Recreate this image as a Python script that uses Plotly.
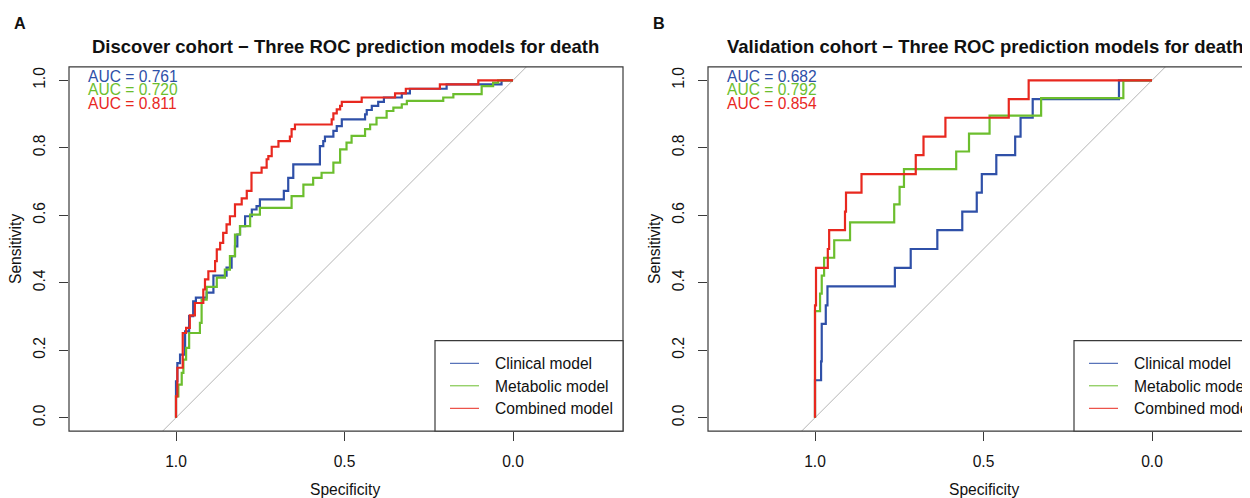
import plotly.graph_objects as go

W, H = 1250, 498

# ---------------- DATA ----------------
# ROC points (specificity, sensitivity)
# Panel A: Discover cohort
disc_clin_spec = [1.0, 0.996, 0.988, 0.973, 0.961, 0.949, 0.941, 0.909, 0.889, 0.850, 0.835, 0.825,
                  0.818, 0.810, 0.795, 0.775, 0.761, 0.751, 0.680, 0.667, 0.652, 0.573, 0.563, 0.558,
                  0.533, 0.523, 0.508, 0.439, 0.434, 0.419, 0.400, 0.383, 0.330, 0.306, 0.197, 0.034, 0.0]
disc_clin_sens = [0.0, 0.108, 0.162, 0.187, 0.256, 0.301, 0.345, 0.356, 0.371, 0.421, 0.445, 0.479,
                  0.508, 0.543, 0.568, 0.597, 0.617, 0.627, 0.647, 0.672, 0.711, 0.751, 0.805, 0.820,
                  0.833, 0.850, 0.864, 0.884, 0.899, 0.912, 0.924, 0.936, 0.949, 0.961, 0.975, 0.988, 1.0]

disc_meta_spec = [1.0, 0.993, 0.983, 0.978, 0.970, 0.961, 0.929, 0.924, 0.909, 0.879, 0.855, 0.840,
                  0.825, 0.810, 0.780, 0.751, 0.657, 0.622, 0.593, 0.568, 0.533, 0.513, 0.494, 0.479,
                  0.439, 0.424, 0.405, 0.375, 0.355, 0.330, 0.315, 0.207, 0.177, 0.093, 0.059, 0.044, 0.0]
disc_meta_sens = [0.0, 0.063, 0.098, 0.133, 0.172, 0.207, 0.251, 0.281, 0.350, 0.388, 0.415, 0.439,
                  0.479, 0.543, 0.568, 0.602, 0.622, 0.657, 0.691, 0.711, 0.726, 0.756, 0.795, 0.815,
                  0.835, 0.855, 0.869, 0.889, 0.909, 0.919, 0.929, 0.939, 0.949, 0.959, 0.983, 0.993, 1.0]

disc_comb_spec = [1.0, 0.996, 0.980, 0.970, 0.959, 0.944, 0.919, 0.914, 0.904, 0.884, 0.879, 0.869,
                  0.860, 0.850, 0.840, 0.825, 0.805, 0.790, 0.776, 0.746, 0.731, 0.726, 0.716, 0.696,
                  0.662, 0.657, 0.647, 0.538, 0.533, 0.523, 0.513, 0.508, 0.449, 0.350, 0.318, 0.217,
                  0.103, 0.0]
disc_comb_sens = [0.0, 0.063, 0.148, 0.251, 0.266, 0.303, 0.340, 0.380, 0.410, 0.434, 0.464, 0.499,
                  0.518, 0.548, 0.573, 0.597, 0.632, 0.650, 0.672, 0.726, 0.741, 0.766, 0.775, 0.803,
                  0.820, 0.833, 0.855, 0.869, 0.884, 0.902, 0.914, 0.924, 0.936, 0.949, 0.961, 0.975,
                  0.988, 1.0]

# Panel B: Validation cohort
val_clin_spec = [1.0, 0.982, 0.980, 0.968, 0.963, 0.763, 0.716, 0.637, 0.563, 0.520, 0.505, 0.462,
                 0.406, 0.390, 0.354, 0.098, 0.0]
val_clin_sens = [0.0, 0.111, 0.167, 0.278, 0.333, 0.389, 0.444, 0.500, 0.556, 0.611, 0.667, 0.722,
                 0.778, 0.833, 0.889, 0.944, 1.0]

val_meta_spec = [1.0, 0.985, 0.980, 0.973, 0.943, 0.896, 0.765, 0.749, 0.736, 0.581, 0.543, 0.482,
                 0.329, 0.085, 0.0]
val_meta_sens = [0.0, 0.316, 0.368, 0.421, 0.474, 0.526, 0.579, 0.632, 0.684, 0.737, 0.789, 0.842,
                 0.895, 0.947, 1.0]

val_comb_spec = [1.0, 0.997, 0.962, 0.958, 0.911, 0.908, 0.862, 0.701, 0.678, 0.613, 0.425, 0.366, 0.0]
val_comb_sens = [0.0, 0.333, 0.444, 0.500, 0.556, 0.611, 0.667, 0.722, 0.778, 0.833, 0.889, 0.944, 1.0]

model_names = ["Clinical model", "Metabolic model", "Combined model"]
disc_auc = ["0.761", "0.720", "0.811"]
val_auc = ["0.682", "0.792", "0.854"]
panel_titles = ["Discover cohort \u2212 Three ROC prediction models for death",
                "Validation cohort \u2212 Three ROC prediction models for death"]
panel_letters = ["A", "B"]
y_ticks = [0.0, 0.2, 0.4, 0.6, 0.8, 1.0]
x_ticks = [1.0, 0.5, 0.0]

# ---------------- STYLE / LAYOUT ----------------
colors = ["#2F50A8", "#6CBE2E", "#E8281F"]
FONT = "Liberation Sans, Arial, Helvetica, sans-serif"
FS = 15.6
FRAME = "#3a3a3a"
OFF = 8          # page body margin of the browser
UNIT = 337.0     # pixels per axis unit (equal aspect)


def px(x):
    return (x - OFF) / W


def py(y):
    return 1 - (y - OFF) / H


fig = go.Figure()

panels = [
    ("x", "y", [(disc_clin_spec, disc_clin_sens), (disc_meta_spec, disc_meta_sens),
                (disc_comb_spec, disc_comb_sens)]),
    ("x2", "y2", [(val_clin_spec, val_clin_sens), (val_meta_spec, val_meta_sens),
                  (val_comb_spec, val_comb_sens)]),
]
for xa, ya, curves in panels:
    for (sp, se), c, name in zip(curves, colors, model_names):
        fig.add_trace(go.Scatter(x=sp, y=se, mode="lines", name=name, xaxis=xa, yaxis=ya,
                                 line=dict(color=c, width=2.2, shape="vh"), showlegend=False,
                                 hoverinfo="skip"))

# geometry (pixels in the photographed window)
top, bottom = 66.8, 431.2
A_left, A_right, A_one = 69, 623, 176
B_left, B_right, B_one = 708, 1262, 815
fig_right = W + OFF
y_range = [-0.04, 1.04]
xA_range = [1 + (A_one - A_left) / UNIT, 1 - (A_right - A_one) / UNIT]
xB_range = [1 + (B_one - B_left) / UNIT, 1 - (fig_right - B_one) / UNIT]

axis_common = dict(showgrid=False, zeroline=False, showline=False, ticks="outside", ticklen=9,
                   tickwidth=1, tickcolor=FRAME, tickfont=dict(family=FONT, size=FS, color="#111"),
                   tickformat=".1f", fixedrange=True)

fig.update_layout(
    width=W, height=H, margin=dict(l=0, r=0, t=0, b=0), autosize=False,
    paper_bgcolor="white", plot_bgcolor="white", template="none",
    xaxis=dict(domain=[px(A_left), px(A_right)], range=xA_range, anchor="y",
               tickvals=x_ticks, ticklabelstandoff=7, **axis_common),
    yaxis=dict(domain=[py(bottom), py(top)], range=y_range, anchor="x",
               tickvals=y_ticks, tickangle=-90, ticklabelstandoff=8, **axis_common),
    xaxis2=dict(domain=[px(B_left), 1.0], range=xB_range, anchor="y2",
                tickvals=x_ticks, ticklabelstandoff=7, **axis_common),
    yaxis2=dict(domain=[py(bottom), py(top)], range=y_range, anchor="x2",
                tickvals=y_ticks, tickangle=-90, ticklabelstandoff=8, **axis_common),
)

shapes = []
annotations = []
for i, (xa, ya, left, right, one) in enumerate([("x", "y", A_left, A_right, A_one),
                                                ("x2", "y2", B_left, B_right, B_one)]):
    # diagonal reference line
    shapes.append(dict(type="line", xref=xa, yref=ya, x0=1 - y_range[0], y0=y_range[0],
                       x1=1 - y_range[1], y1=y_range[1], line=dict(color="#b4b4b4", width=1),
                       layer="below"))
    # frame
    shapes.append(dict(type="rect", xref="paper", yref="paper", x0=px(left), x1=px(right),
                       y0=py(bottom), y1=py(top), line=dict(color=FRAME, width=1.2)))
    # legend box
    lx0 = left + (435 - A_left)
    shapes.append(dict(type="rect", xref="paper", yref="paper", x0=px(lx0), x1=px(right),
                       y0=py(bottom), y1=py(340.7), line=dict(color=FRAME, width=1.2),
                       fillcolor="white"))
    for k, (c, name) in enumerate(zip(colors, model_names)):
        ly = 363.3 + k * 22.5
        shapes.append(dict(type="line", xref="paper", yref="paper", x0=px(lx0 + 15), x1=px(lx0 + 44),
                           y0=py(ly), y1=py(ly), line=dict(color=c, width=1)))
        annotations.append(dict(xref="paper", yref="paper", x=px(lx0 + 57.5), y=py(ly + 0.5),
                                xanchor="left", yanchor="middle", showarrow=False, text=name,
                                font=dict(family=FONT, size=FS, color="#111")))
    # AUC labels
    aucs = disc_auc if i == 0 else val_auc
    for k, (c, a) in enumerate(zip(colors, aucs)):
        annotations.append(dict(xref="paper", yref="paper", x=px(left + 16.5), y=py(76 + k * 13.7),
                                xanchor="left", yanchor="middle", showarrow=False,
                                text="AUC = " + a, font=dict(family=FONT, size=FS, color=c)))
    # title
    annotations.append(dict(xref="paper", yref="paper", x=px((left + right) / 2), y=py(47),
                            xanchor="center", yanchor="middle", showarrow=False,
                            text="<b>" + panel_titles[i] + "</b>",
                            font=dict(family=FONT, size=18.5, color="#111")))
    # panel letter
    annotations.append(dict(xref="paper", yref="paper", x=px(left - 49), y=py(22.5),
                            xanchor="center", yanchor="middle", showarrow=False,
                            text="<b>" + panel_letters[i] + "</b>",
                            font=dict(family=FONT, size=16.2, color="#111")))
    # axis titles
    annotations.append(dict(xref="paper", yref="paper", x=px(one + 0.5 * UNIT), y=py(489),
                            xanchor="center", yanchor="middle", showarrow=False, text="Specificity",
                            font=dict(family=FONT, size=FS, color="#111")))
    annotations.append(dict(xref="paper", yref="paper", x=px(left - 54), y=py((top + bottom) / 2),
                            xanchor="center", yanchor="middle", showarrow=False, text="Sensitivity",
                            textangle=-90, font=dict(family=FONT, size=FS, color="#111")))

fig.update_layout(shapes=shapes, annotations=annotations)
fig.write_html("out.html")
